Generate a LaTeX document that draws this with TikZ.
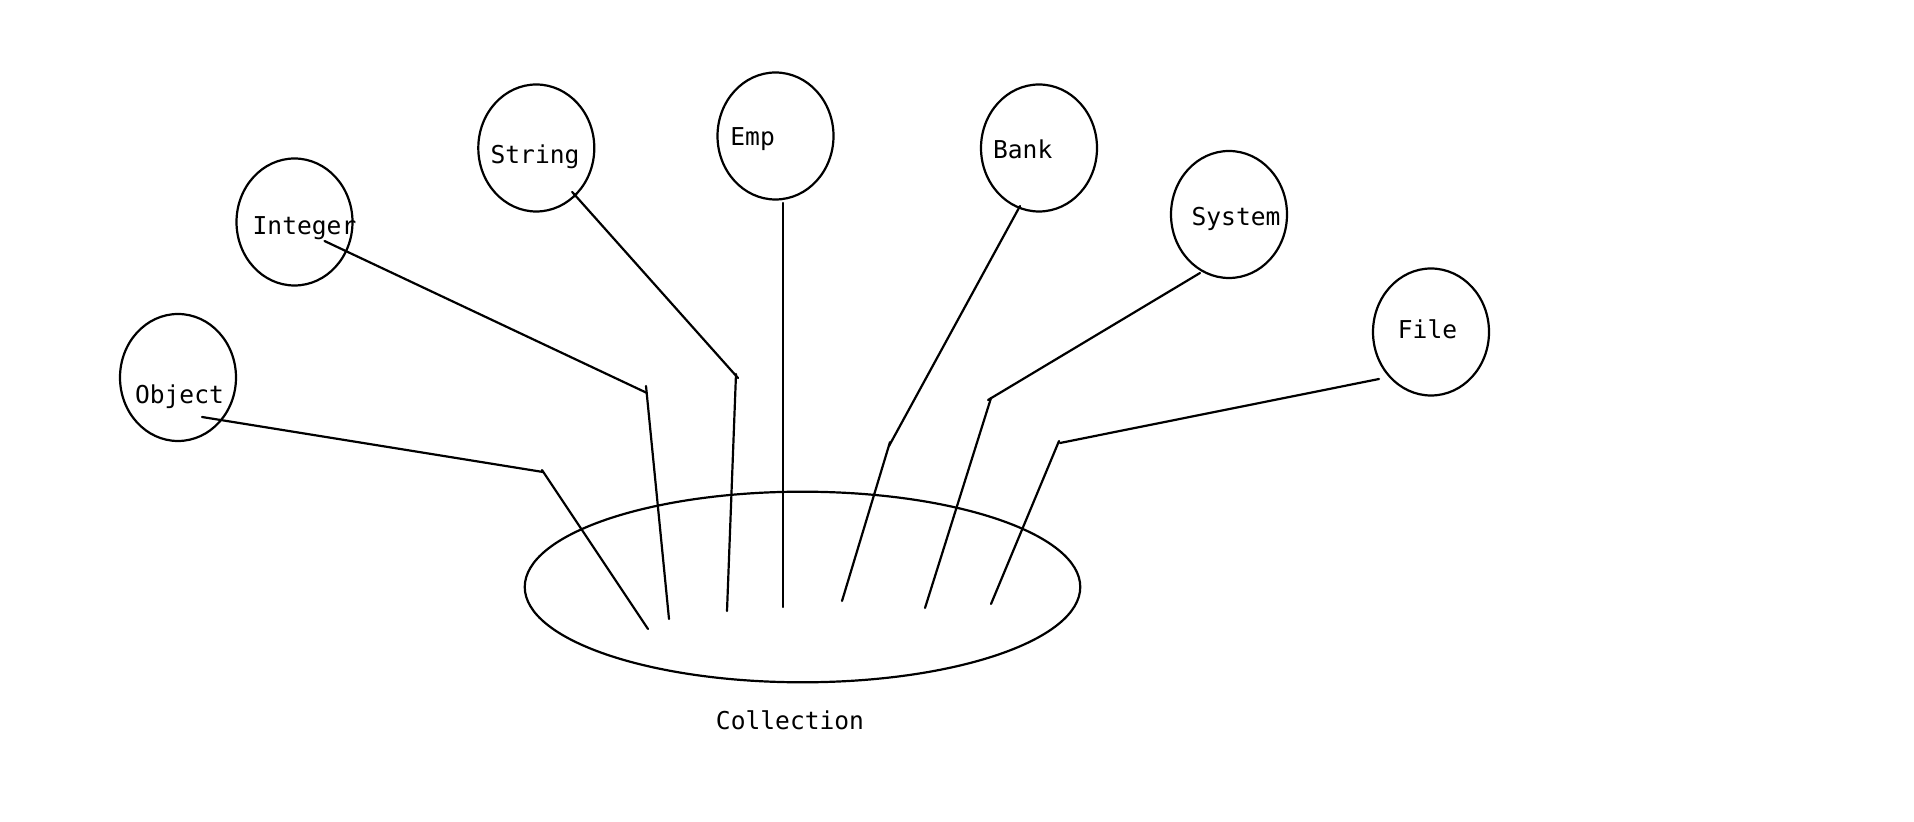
\documentclass[tikz,border=0pt]{standalone}
\usepackage{fontspec}
\setmonofont{DejaVu Sans Mono}
\usetikzlibrary{shapes.geometric}
\begin{document}
\begin{tikzpicture}[x=0.5pt,y=-0.5pt,
  bubble/.style={draw, ellipse, line width=1.1pt, inner sep=0pt, minimum width=58pt, minimum height=63.5pt},
  word/.style={font=\ttfamily\fontsize{12.3pt}{14pt}\selectfont, anchor=base, inner sep=0pt},
  wire/.style={line width=1.1pt, line cap=round}]
\useasboundingbox (0,0) rectangle (1914,822);
\fill[white] (0,0) rectangle (1914,822);
% small ellipses
\node[bubble] (object) at (178,377.5) {};
\node[bubble] (integer) at (294.5,222) {};
\node[bubble] (string) at (536.3,148) {};
\node[bubble] (emp) at (775.5,136) {};
\node[bubble] (bank) at (1039,148) {};
\node[bubble] (system) at (1229,214.5) {};
\node[bubble] (file) at (1431,332) {};
% big ellipse
\node[draw, ellipse, line width=1.1pt, inner sep=0pt, minimum width=277.75pt, minimum height=95.3pt] (coll) at (802.5,587) {};
% labels
\node[word] (tobject) at (179.5,404) {Object};
\node[word] (tinteger) at (304.5,235) {Integer};
\node[word] (tstring) at (535,164) {String};
\node[word] (temp) at (752.6,145.7) {Emp};
\node[word] (tbank) at (1022.7,159) {Bank};
\node[word] (tsystem) at (1236,226) {System};
\node[word] (tfile) at (1427.5,338.3) {File};
\node[word] (tcoll) at (790,729.3) {Collection};
% connector points
\coordinate (o1) at (202,417); \coordinate (o2) at (543,472); \coordinate (o3) at (542,470); \coordinate (o4) at (648,629);
\coordinate (i1) at (324.5,241); \coordinate (i2) at (647,393); \coordinate (i3) at (646,386); \coordinate (i4) at (669,619);
\coordinate (s1) at (572.2,192); \coordinate (s2) at (738,378); \coordinate (s3) at (736,374); \coordinate (s4) at (727,611);
\coordinate (e1) at (783,203); \coordinate (e4) at (783,607);
\coordinate (b1) at (1020,206); \coordinate (b2) at (889,446); \coordinate (b3) at (890,442); \coordinate (b4) at (842,601);
\coordinate (y1) at (1200,273); \coordinate (y2) at (988,400); \coordinate (y3) at (991,398); \coordinate (y4) at (925,608);
\coordinate (f1) at (1379,379); \coordinate (f2) at (1060,443); \coordinate (f3) at (1059,441); \coordinate (f4) at (991,604);
\draw[wire] (o1) -- (o2); \draw[wire] (o3) -- (o4);
\draw[wire] (i1) -- (i2); \draw[wire] (i3) -- (i4);
\draw[wire] (s1) -- (s2); \draw[wire] (s3) -- (s4);
\draw[wire] (e1) -- (e4);
\draw[wire] (b1) -- (b2); \draw[wire] (b3) -- (b4);
\draw[wire] (y1) -- (y2); \draw[wire] (y3) -- (y4);
\draw[wire] (f1) -- (f2); \draw[wire] (f3) -- (f4);
\end{tikzpicture}
\end{document}
